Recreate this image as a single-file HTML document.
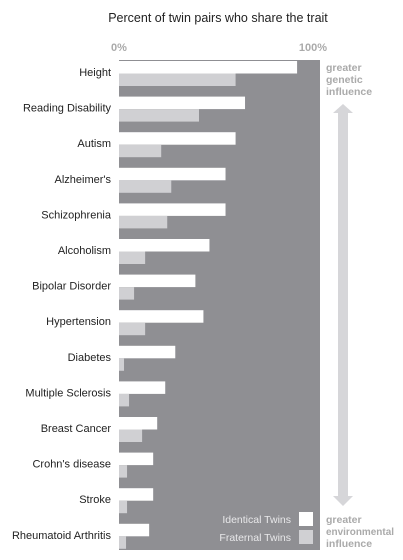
<!DOCTYPE html>
<html><head><meta charset="utf-8"><style>
body{margin:0;width:403px;height:560px;background:#fff;font-family:"Liberation Sans",sans-serif;position:relative;overflow:hidden}
</style></head><body>
<svg width="403" height="560" style="position:absolute;left:0;top:0">
<text x="218" y="22" text-anchor="middle" font-size="12.5" fill="#222">Percent of twin pairs who share the trait</text>
<text x="119" y="51" text-anchor="middle" font-size="11" font-weight="bold" fill="#aaa">0%</text>
<text x="313" y="51" text-anchor="middle" font-size="11" font-weight="bold" fill="#aaa">100%</text>
<rect x="119" y="60" width="201" height="490" fill="#8f8f93"/>
<g id="bars"></g>
<text x="326" y="71" font-size="10.5" font-weight="bold" fill="#aaa"><tspan x="326">greater</tspan><tspan x="326" dy="12">genetic</tspan><tspan x="326" dy="12">influence</tspan></text>
<polygon points="343,104 353,113 348,113 348,496 353,496 343,506 333,496 338,496 338,113 333,113" fill="#d6d6d9"/>
<text x="326" y="523" font-size="10.5" font-weight="bold" fill="#aaa"><tspan x="326">greater</tspan><tspan x="326" dy="12" textLength="68" lengthAdjust="spacingAndGlyphs">environmental</tspan><tspan x="326" dy="12">influence</tspan></text>
<text x="291" y="523" text-anchor="end" font-size="10.5" fill="#e8e8ea">Identical Twins</text>
<rect x="299" y="512" width="14" height="14" fill="#fff"/>
<text x="291" y="541" text-anchor="end" font-size="10.5" fill="#e8e8ea">Fraternal Twins</text>
<rect x="299" y="530" width="14" height="14" fill="#d0d0d3"/>
</svg>
<script>
const categories=["Height","Reading Disability","Autism","Alzheimer's","Schizophrenia","Alcoholism","Bipolar Disorder","Hypertension","Diabetes","Multiple Sclerosis","Breast Cancer","Crohn's disease","Stroke","Rheumatoid Arthritis"];
const identical=[88.6,62.7,58,53,53,45,38,42,28,23,19,17,17,15];
const fraternal=[58,39.8,21,26,24,13,7.5,13,2.5,5,11.5,4,4,3.5];
const NS="http://www.w3.org/2000/svg";
const g=document.getElementById('bars');
const xs=v=>v/100*201;
const ys=i=>61+i*35.6;
function mk(tag,a){const e=document.createElementNS(NS,tag);for(const k in a)e.setAttribute(k,a[k]);g.appendChild(e);return e;}
categories.forEach((c,i)=>{
 const y=ys(i);
 const b1=mk('rect',{x:119,y:y,width:xs(identical[i]),height:12.5,fill:'#fff'});
 
 
 const b2=mk('rect',{x:119,y:y+12.5,width:xs(fraternal[i]),height:12.5,fill:'#d0d0d3'});
 
 
 const t=mk('text',{x:111,y:y+15,'text-anchor':'end','font-size':'11',fill:'#222'});
 t.textContent=c;
 
 
});
</script>
</body></html>
